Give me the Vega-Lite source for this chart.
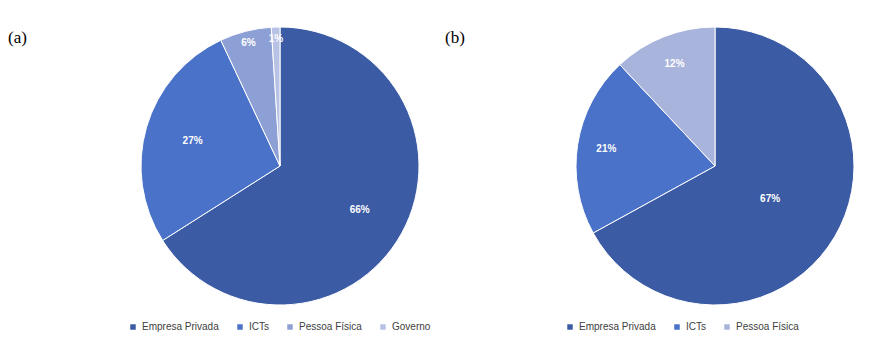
{
  "$schema": "https://vega.github.io/schema/vega-lite/v6.json",
  "padding": {"left": 0, "top": 25, "right": 0, "bottom": 0},
  "spacing": 0,
  "bounds": "flush",
  "background": "white",
  "config": {
    "view": {"stroke": null},
    "legend": {
      "orient": "none",
      "direction": "horizontal",
      "symbolType": "square",
      "symbolSize": 30,
      "labelFont": "Liberation Sans",
      "labelFontSize": 10,
      "labelColor": "#404040",
      "columnPadding": 16,
      "symbolStrokeWidth": 0,
      "title": null
    },
    "title": {"font": "Liberation Serif", "fontSize": 17, "fontWeight": "normal", "color": "#000000", "anchor": "start", "frame": "group"}
  },
  "datasets": {
    "a": [
      {"categoria": "Empresa Privada", "valor": 66, "rotulo": "66%"},
      {"categoria": "ICTs", "valor": 27, "rotulo": "27%"},
      {"categoria": "Pessoa Física", "valor": 6, "rotulo": "6%"},
      {"categoria": "Governo", "valor": 1, "rotulo": "1%"}
    ],
    "b": [
      {"categoria": "Empresa Privada", "valor": 67, "rotulo": "67%"},
      {"categoria": "ICTs", "valor": 21, "rotulo": "21%"},
      {"categoria": "Pessoa Física", "valor": 12, "rotulo": "12%"}
    ]
  },
  "hconcat": [
    {
      "width": 560,
      "height": 278,
      "title": {"text": "(a)", "offset": -22, "dx": 8},
      "data": {"name": "a"},
      "encoding": {
        "theta": {"field": "valor", "type": "quantitative", "stack": true},
        "order": {"field": "valor", "sort": "descending"}
      },
      "layer": [
        {
          "mark": {"type": "arc", "outerRadius": 139, "stroke": "white", "strokeWidth": 1},
          "encoding": {
            "color": {
              "field": "categoria", "type": "nominal",
              "scale": {"domain": ["Empresa Privada", "ICTs", "Pessoa Física", "Governo"], "range": ["#3b5ba5", "#4a72c8", "#8da0d6", "#b7c2e5"]},
              "sort": null,
              "legend": {"legendX": 128, "legendY": 295}
            }
          }
        },
        {
          "mark": {"type": "text", "radius": 91, "font": "Liberation Sans", "fontSize": 10, "fontWeight": "bold", "fill": "white"},
          "encoding": {
            "text": {"condition": {"test": "datum.valor >= 20", "field": "rotulo"}, "value": ""}
          }
        },
        {
          "mark": {"type": "text", "radius": 127, "font": "Liberation Sans", "fontSize": 10, "fontWeight": "bold", "fill": "white"},
          "encoding": {
            "text": {"condition": {"test": "datum.valor < 20", "field": "rotulo"}, "value": ""}
          }
        }
      ]
    },
    {
      "width": 310,
      "height": 278,
      "title": {"text": "(b)", "offset": -22, "dx": -115},
      "data": {"name": "b"},
      "encoding": {
        "theta": {"field": "valor", "type": "quantitative", "stack": true},
        "order": {"field": "valor", "sort": "descending"}
      },
      "layer": [
        {
          "mark": {"type": "arc", "outerRadius": 139, "stroke": "white", "strokeWidth": 1},
          "encoding": {
            "color": {
              "field": "categoria", "type": "nominal",
              "scale": {"domain": ["Empresa Privada", "ICTs", "Pessoa Física"], "range": ["#3b5ba5", "#4a72c8", "#a8b4dc"]},
              "sort": null,
              "legend": {"legendX": 5, "legendY": 295}
            }
          }
        },
        {
          "mark": {"type": "text", "radius": 64, "font": "Liberation Sans", "fontSize": 10, "fontWeight": "bold", "fill": "white"},
          "encoding": {
            "text": {"condition": {"test": "datum.valor >= 50", "field": "rotulo"}, "value": ""}
          }
        },
        {
          "mark": {"type": "text", "radius": 110, "font": "Liberation Sans", "fontSize": 10, "fontWeight": "bold", "fill": "white"},
          "encoding": {
            "text": {"condition": {"test": "datum.valor < 50", "field": "rotulo"}, "value": ""}
          }
        }
      ]
    }
  ],
  "resolve": {"scale": {"color": "independent"}}
}
